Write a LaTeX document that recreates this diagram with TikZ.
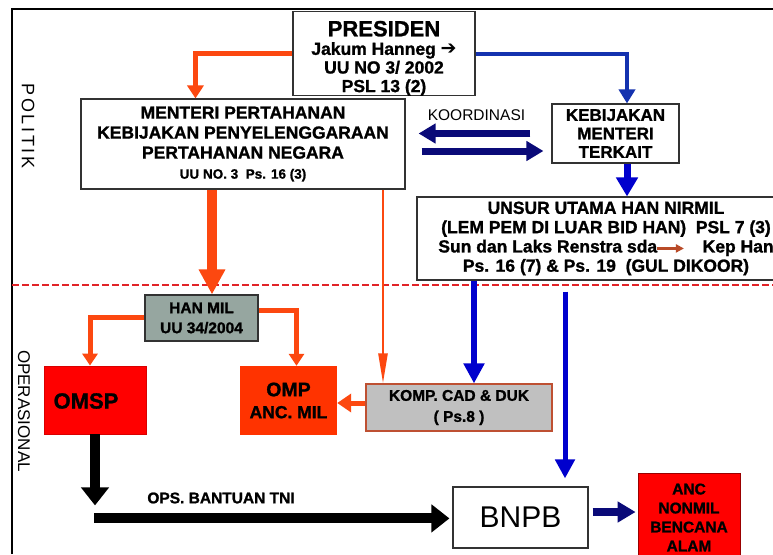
\documentclass[tikz,border=0pt]{standalone}
\usepackage{fontspec}
\setmainfont{Liberation Sans}[BoldFeatures={FakeBold=1.2}]
\newfontfamily\djv{DejaVu Sans}
\usetikzlibrary{arrows.meta,calc}
\definecolor{oarr}{RGB}{252,72,16}
\definecolor{bluel}{RGB}{20,50,175}
\definecolor{bluev}{RGB}{0,0,205}
\definecolor{navyc}{RGB}{10,10,120}
\definecolor{dashred}{RGB}{225,35,40}
\definecolor{hanmilc}{RGB}{150,166,160}
\definecolor{kompc}{RGB}{192,192,192}
\definecolor{kompb}{RGB}{190,80,50}
\definecolor{omspc}{RGB}{255,0,0}
\definecolor{ompc}{RGB}{255,51,0}
\definecolor{sdab}{RGB}{185,75,40}
\definecolor{boxline}{RGB}{50,50,50}
\newcommand\fsz[2]{\fontsize{#1}{#2}\selectfont}
\begin{document}
\begin{tikzpicture}[x=1pt,y=-1pt,
  box/.style={draw=boxline,line width=1.1pt,inner sep=0pt,align=center,fill=white},
  fillbox/.style={inner sep=0pt,align=center},
  oone/.style={draw=oarr,line width=5pt,-{Triangle[width=16pt,length=13pt]}},
  othick/.style={draw=oarr,line width=10pt,-{Triangle[width=25pt,length=25pt]}},
  othin/.style={draw=oarr,line width=2.5pt,-{Triangle[width=9pt,length=30pt]}},
  obranch/.style={draw=oarr,line width=5pt,-{Triangle[width=15pt,length=12pt]}},
  oside/.style={draw=oarr,line width=5pt,-{Triangle[width=18pt,length=14pt]}},
  bone/.style={draw=bluel,line width=4pt,-{Triangle[width=16pt,length=14pt]}},
  bkeb/.style={draw=bluev,line width=7pt,-{Triangle[width=21pt,length=19pt]}},
  bkomp/.style={draw=bluev,line width=6pt,-{Triangle[width=20pt,length=20pt]}},
  bbnpb/.style={draw=bluev,line width=5pt,-{Triangle[width=19pt,length=19pt]}},
  navyarr/.style={draw=navyc,line width=7pt,-{Triangle[width=19pt,length=17pt]}},
  navyanc/.style={draw=navyc,line width=8pt,-{Triangle[width=20pt,length=18pt]}},
  blackarr/.style={draw=black,line width=10pt,-{Triangle[width=27pt,length=18pt]}}
]
\useasboundingbox (0,0) rectangle (773,554);
\fill[white] (0,0) rectangle (773,554);

% frame and separator
\draw[line width=1.5pt] (12,554) -- (12,9) -- (773,9);
\draw[dashred,line width=2.5pt,dash pattern=on 7pt off 3pt] (12,285) -- (773,285);

% side labels
\node[rotate=-90,font=\fsz{18}{18}] (politik) at (28,126) {P\kern2.7pt O\kern2.7pt L\kern2.7pt I\kern2.7pt T\kern2.7pt I\kern2.7pt K};
\node[rotate=-90,font=\fsz{17}{17}] (oper) at (24,411) {OPERASIONAL};

% boxes
\node[box,minimum width=182pt,minimum height=81pt,font=\bfseries\fsz{17.5}{18.6}] (pres) at (384,53.5)
  {\rule{0pt}{25pt}{\fsz{22}{22}PRESIDEN}\\Jakum Hanneg {\djv\fsz{19}{15}➔}\\UU NO 3/ 2002\\PSL 13 (2)};
\node[box,minimum width=324pt,minimum height=90pt,font=\bfseries\fsz{17.5}{20}] (menteri) at (243,144)
  {MENTERI PERTAHANAN\\KEBIJAKAN PENYELENGGARAAN\\PERTAHANAN NEGARA\\{\fsz{13.5}{20}UU NO. 3\ \ Ps. 16 (3)}};
\node[box,minimum width=127pt,minimum height=59pt,font=\bfseries\fsz{17}{18.5}] (kebij) at (615.5,133.5)
  {KEBIJAKAN\\MENTERI\\TERKAIT};
\node[box,minimum width=378pt,minimum height=83pt,font=\bfseries\fsz{17.5}{19.3}] (unsur) at (606,238.5)
  {UNSUR UTAMA HAN NIRMIL\\
   (LEM PEM DI LUAR BID HAN)\ \ PSL 7 (3)\\
   Sun dan Laks Renstra sda\kern-2pt\tikz[baseline=-4pt]\draw[sdab,line width=3.5pt,-{Triangle[width=8pt,length=8pt]}] (0pt,0pt) -- (27pt,0pt);\kern17pt Kep Han\\
   Ps. 16 (7) \& Ps. 19\ \ (GUL DIKOOR)};
\node[box,fill=hanmilc,minimum width=113pt,minimum height=46pt,font=\bfseries\fsz{15.5}{20}] (hanmil) at (201.5,318)
  {HAN MIL\\UU 34/2004};
\node[fillbox,fill=omspc,draw=red!85!black,line width=0.8pt,minimum width=102pt,minimum height=68pt] (omsp) at (95,400) {};
\node[font=\bfseries\fsz{22}{22}] (omsptxt) at (86,401) {OMSP};
\node[fillbox,fill=ompc,minimum width=97pt,minimum height=69pt,font=\bfseries\fsz{17.5}{22}] (omp) at (288.5,400.5)
  {{\fsz{19.5}{22}OMP}\\ANC. MIL};
\node[fillbox,fill=kompc,draw=kompb,line width=1.2pt,minimum width=186pt,minimum height=47pt,font=\bfseries\fsz{15.5}{21}] (komp) at (459,407.5)
  {KOMP. CAD \& DUK\\( Ps.8 )};
\node[box,minimum width=135pt,minimum height=61pt,font=\fsz{30}{30}] (bnpb) at (520.5,517.5) {BNPB};
\node[fillbox,fill=omspc,draw=red!60!black,line width=0.8pt,minimum width=102pt,minimum height=89pt,font=\bfseries\fsz{15.5}{19}] (anc) at (689,517.5)
  {ANC\\NONMIL\\BENCANA\\ALAM};

% labels
\node[font=\fsz{15.5}{16}] (koord) at (476.5,115) {KOORDINASI};
\node[font=\bfseries\fsz{15.5}{16}] (ops) at (221,498) {OPS. BANTUAN TNI};

% connectors (top)
\draw[oone] (pres.west) -| ($(menteri.north west)+(115,0)$);
\draw[bone] (pres.east) -| ($(kebij.north)+(11.5,0)$);
\coordinate (k1) at ($(kebij.south)+(11.5,0)$);
\draw[bkeb] (k1) -- (k1 |- unsur.north);
\coordinate (kl) at ([xshift=-21pt]kebij.west);
\draw[navyarr] (kl) -- ([xshift=13pt]menteri.east |- kl);
\coordinate (kr) at ([xshift=16pt,yshift=-7pt]menteri.east);
\draw[navyarr] (kr) -- ([xshift=-8pt]kebij.west |- kr);

% from Menteri
\coordinate (m2) at ([xshift=-31pt]menteri.south);
\draw[othick] (m2) -- (m2 |- hanmil.north);
\coordinate (m3) at ([xshift=140pt]menteri.south);
\draw[othin] (m3) -- (m3 |- komp.north);

% from Han Mil
\draw[obranch] ([yshift=1pt]hanmil.west) -| ([xshift=-5pt]omsp.north);
\draw[obranch] ([yshift=8pt]hanmil.east) -| ([xshift=8pt]omp.north);

% from Unsur
\coordinate (u1) at ([xshift=-132pt]unsur.south);
\draw[bkomp] (u1) -- (u1 |- komp.north);
\coordinate (u2) at ([xshift=-41pt,yshift=-11pt]unsur.south);
\draw[bbnpb,shorten >=8pt] (u2) -- (u2 |- bnpb.north);

% Komp -> Omp
\coordinate (k2) at ([yshift=4.5pt]komp.west);
\draw[oside] (k2) -- (k2 -| omp.east);

% bottom
\coordinate (bd) at ($(omsp.south)+(0,71)$);
\draw[blackarr] (omsp.south) -- (bd);
\coordinate (bh) at ($(omsp.south)+(-1,84)$);
\draw[blackarr,shorten >=3pt] (bh) -- (bh -| bnpb.west);
\coordinate (b2) at ([yshift=5.5pt]bnpb.east);
\draw[navyanc,shorten <=4pt,shorten >=2pt] (b2) -- (b2 -| anc.west);
\end{tikzpicture}
\end{document}
